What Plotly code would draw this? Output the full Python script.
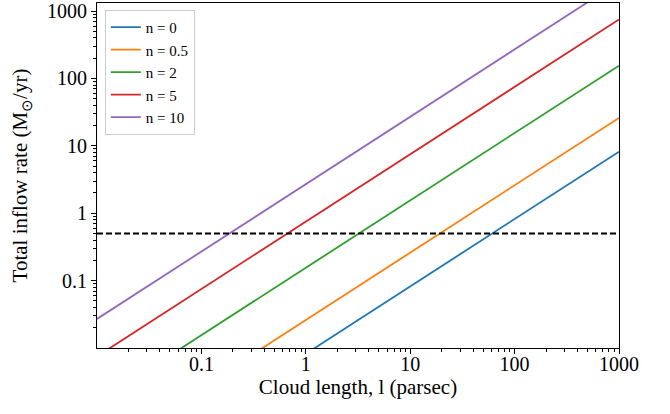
import plotly.graph_objects as go

# Data (values at the two ends of the x range)
x_ends = [0.01, 1000]
series_names = ["n = 0", "n = 0.5", "n = 2", "n = 5", "n = 10"]
y_n0 = [8.2e-5, 8.2]
y_n05 = [2.6e-4, 26]
y_n2 = [1.55e-3, 155]
y_n5 = [7.5e-3, 750]
y_n10 = [2.7e-2, 2700]
threshold_y = [0.5, 0.5]

series_values = [y_n0, y_n05, y_n2, y_n5, y_n10]
colors = ["#1f77b4", "#ff7f0e", "#2ca02c", "#d62728", "#9467bd"]

tick_vals = [0.1, 1, 10, 100, 1000]
tick_text = ["0.1", "1", "10", "100", "1000"]
minor_vals = [k * 10.0 ** e for e in range(-2, 4) for k in range(2, 10)]

fig = go.Figure()
for name, ys, c in zip(series_names, series_values, colors):
    fig.add_trace(go.Scatter(x=x_ends, y=ys, mode="lines", name=name,
                             line=dict(color=c, width=1.8)))
fig.add_trace(go.Scatter(x=x_ends, y=threshold_y, mode="lines", showlegend=False,
                         line=dict(color="black", width=2, dash="6px,3px")))

font_family = "Liberation Serif"
axis_common = dict(
    type="log", showgrid=False, zeroline=False,
    showline=True, linecolor="black", linewidth=1, mirror=True,
    ticks="outside", ticklen=5, tickcolor="black", tickwidth=1,
    tickvals=tick_vals, ticktext=tick_text,
    tickfont=dict(family=font_family, size=20, color="black"),
    minor=dict(tickvals=minor_vals, ticks="outside", ticklen=3,
               tickcolor="black", tickwidth=0.8, showgrid=False),
    automargin=False,
    ticklabeloverflow="allow",
)

fig.update_layout(
    width=670, height=414,
    margin=dict(l=97, r=51, t=3, b=66),
    paper_bgcolor="white", plot_bgcolor="white",
    font=dict(family=font_family, color="black"),
    xaxis=dict(range=[-2, 3], ticklabelstandoff=-7,
               title=dict(text="Cloud length, l (parsec)",
                          font=dict(family=font_family, size=21), standoff=4),
               **axis_common),
    yaxis=dict(range=[-2, 3.12],
               title=dict(text="Total inflow rate (M<sub>⊙</sub>/yr)",
                          font=dict(family=font_family, size=21), standoff=13),
               **axis_common),
    legend=dict(x=0.015, y=0.98, xanchor="left", yanchor="top",
                bgcolor="rgba(255,255,255,0.8)", bordercolor="#cccccc", borderwidth=1,
                font=dict(family=font_family, size=15, color="black"),
                tracegroupgap=0, itemwidth=30),
)

fig.write_html("out.html", config={"displayModeBar": False},
               post_script="document.body.style.margin='0';")
